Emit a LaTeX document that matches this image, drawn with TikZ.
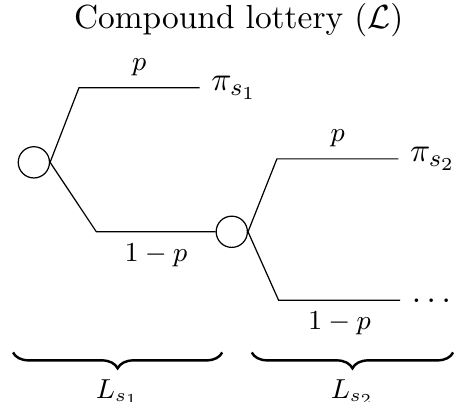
\documentclass[tikz,border=0pt,11pt]{standalone}
\usetikzlibrary{decorations.pathreplacing}
\begin{document}
\begin{tikzpicture}[chance/.style={circle, draw, minimum size=0.36cm, inner sep=0pt},
        prob/.style={font=\footnotesize},
        brc/.style={decorate, decoration={brace, mirror, amplitude=5.2pt}, thick}]
            \useasboundingbox (0,0) rectangle (5.23,-4.62);
            \node[anchor=north, inner sep=0pt] (title) at (2.75,-0.03) {Compound lottery ($\mathcal{L}$)};
            \node[chance] (c1) at (0.39,-1.87) {};
            \node[chance] (c2) at (2.67,-2.67) {};
            \coordinate (u1) at (0.91,-1.01);
            \coordinate (d1) at (1.11,-2.67);
            \coordinate (u2) at (3.19,-1.83);
            \coordinate (d2) at (3.21,-3.46);
            \node[anchor=west] (pi1) at (2.30,-1.01) {$\pi_{s_1}$};
            \node[anchor=west] (pi2) at (4.59,-1.83) {$\pi_{s_2}$};
            \node[anchor=west] (more) at (4.61,-3.46) {$\dots$};
            \draw (c1.east) -- (u1) -- node[above, prob] {$p$} (pi1.west);
            \draw (c1.east) -- (d1) -- node[below, prob] {$1-p$} (c2.west);
            \draw (c2.east) -- (u2) -- node[above, prob] {$p$} (pi2.west);
            \draw (c2.east) -- (d2) -- node[below, prob] {$1-p$} (more.west);
            \coordinate (b1s) at (0.15,-4.06);
            \coordinate (b1e) at (2.56,-4.06);
            \coordinate (b2s) at (2.90,-4.06);
            \coordinate (b2e) at (5.22,-4.06);
            \draw[brc] (b1s) -- node[below=7.5pt, prob, inner sep=1pt] (l1) {$L_{s_1}$} (b1e);
            \draw[brc] (b2s) -- node[below=7.5pt, prob, inner sep=1pt] (l2) {$L_{s_2}$} (b2e);
        \end{tikzpicture}
\end{document}
